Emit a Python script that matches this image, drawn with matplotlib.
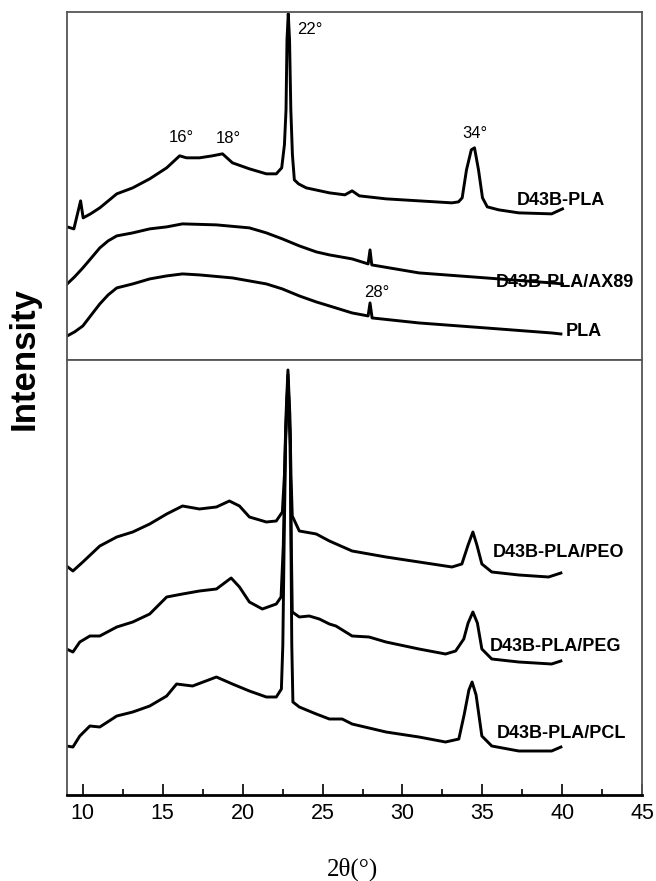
import matplotlib
matplotlib.use("Agg")
import matplotlib.pyplot as plt
from matplotlib.ticker import MultipleLocator

# ---- XRD patterns (2theta in degrees, intensity in a.u., offset for stacking) ----
tt_pla_d43b = [9.04, 9.46, 9.88, 10.04, 10.5, 11.08, 12.14, 13.14, 14.20, 15.26, 16.07, 16.50, 17.31,
               18.12, 18.75, 19.37, 20.43, 21.49, 22.11, 22.45, 22.62, 22.72, 22.78, 22.86, 22.94,
               23.02, 23.12, 23.24, 23.50, 23.98, 25.43, 26.40, 26.85, 27.30, 28.97, 31.03, 33.09,
               33.50, 33.73, 34.00, 34.30, 34.50, 34.75, 35.00, 35.30, 36.02, 37.27, 39.32, 40.00]
I_pla_d43b = [133, 131, 159, 142, 146, 152, 166, 172, 181, 192, 204, 202, 202,
              204, 206, 197, 191, 186, 186, 192, 215, 250, 320, 346, 320,
              250, 205, 180, 176, 172, 167, 165, 169, 164, 161, 159, 157,
              158, 162, 190, 210, 212, 190, 162, 153, 150, 147, 146, 151]

tt_ax89 = [9.04, 9.50, 10.02, 10.50, 11.08, 11.60, 12.14, 13.14, 14.20, 15.26, 16.25, 18.37,
           20.43, 21.49, 22.49, 23.55, 24.61, 25.43, 26.85, 27.85, 27.97, 28.08, 31.03, 35.21,
           39.32, 40.00]
I_ax89 = [76, 83, 92, 101, 112, 119, 124, 127, 131, 133, 136, 135,
          132, 127, 121, 114, 108, 105, 101, 96, 110, 95, 87, 82,
          77, 76]

tt_pla = [9.04, 9.50, 10.02, 10.50, 11.08, 11.60, 12.14, 13.14, 14.20, 15.26, 16.25, 17.31,
          19.37, 21.49, 22.49, 23.55, 24.61, 25.43, 26.85, 27.85, 27.97, 28.10, 31.03, 35.21,
          39.32, 39.90]
I_pla = [24, 28, 34, 44, 56, 65, 72, 76, 81, 84, 86, 85,
         82, 76, 71, 64, 58, 54, 47, 44, 57, 42, 37, 32,
         27, 26]

tt_peo = [9.00, 9.40, 10.02, 11.08, 12.14, 13.14, 14.20, 15.26, 16.25, 17.31, 18.37, 19.18,
          19.81, 20.43, 21.49, 22.11, 22.49, 22.62, 22.72, 22.84, 22.96, 23.03, 23.11, 23.55,
          24.61, 25.43, 26.85, 28.97, 31.03, 33.09, 33.71, 34.10, 34.40, 34.65, 34.96, 35.58,
          37.27, 39.13, 39.90]
I_peo = [229, 224, 233, 249, 258, 263, 271, 281, 289, 286, 288, 294,
         289, 278, 273, 274, 283, 320, 380, 425, 380, 320, 279, 264,
         261, 254, 244, 238, 233, 228, 231, 250, 263, 250, 231, 223,
         220, 218, 222]

tt_peg = [9.00, 9.40, 9.83, 10.46, 11.08, 12.14, 13.14, 14.20, 15.26, 16.25, 17.31, 18.37,
          19.29, 19.81, 20.43, 21.24, 22.11, 22.41, 22.55, 22.68, 22.84, 22.98, 23.05, 23.11,
          23.55, 24.17, 24.80, 25.43, 25.84, 26.85, 27.91, 28.97, 31.03, 32.69, 33.32, 33.83,
          34.10, 34.40, 34.68, 34.96, 35.58, 37.27, 39.32, 39.90]
I_peg = [146, 143, 153, 159, 159, 168, 173, 181, 198, 201, 204, 206,
         217, 208, 193, 186, 191, 198, 250, 350, 420, 350, 250, 183,
         178, 179, 176, 171, 169, 159, 158, 153, 146, 141, 144, 156,
         172, 183, 172, 146, 136, 133, 131, 134]

tt_pcl = [9.00, 9.40, 9.83, 10.46, 11.08, 12.14, 13.14, 14.20, 15.26, 15.88, 16.88, 18.37,
          19.37, 20.43, 21.49, 22.11, 22.43, 22.52, 22.60, 22.70, 22.84, 22.98, 23.03, 23.08,
          23.15, 23.55, 24.61, 25.43, 26.23, 26.85, 28.97, 31.03, 32.69, 33.52, 33.85, 34.15,
          34.35, 34.60, 34.96, 35.58, 37.27, 39.32, 39.90]
I_pcl = [49, 48, 59, 69, 68, 79, 83, 89, 99, 111, 109, 118,
         111, 104, 98, 98, 106, 150, 250, 360, 415, 360, 250, 150,
         93, 88, 81, 76, 76, 71, 63, 58, 53, 56, 80, 105,
         113, 100, 59, 49, 44, 44, 48]

series_top = ["D43B-PLA", "D43B-PLA/AX89", "PLA"]
series_bottom = ["D43B-PLA/PEO", "D43B-PLA/PEG", "D43B-PLA/PCL"]
peak_labels = ["16°", "18°", "22°", "34°", "28°"]
x_ticks = [10, 15, 20, 25, 30, 35, 40, 45]

plt.rcParams["font.family"] = ["Liberation Sans", "DejaVu Sans"]

fig = plt.figure(figsize=(6.56, 8.81), dpi=100)
ax_top = fig.add_axes([0.1014, 0.5914, 0.878, 0.3953])
ax_bot = fig.add_axes([0.1014, 0.0976, 0.878, 0.4938], sharex=ax_top)

line_kw = dict(color="black", lw=2.1, solid_joinstyle="round")

ax_top.plot(tt_pla_d43b, I_pla_d43b, **line_kw)
ax_top.plot(tt_ax89, I_ax89, **line_kw)
ax_top.plot(tt_pla, I_pla, **line_kw)

ax_bot.plot(tt_peo, I_peo, **line_kw)
ax_bot.plot(tt_peg, I_peg, **line_kw)
ax_bot.plot(tt_pcl, I_pcl, **line_kw)

ax_top.set_ylim(0, 348)
ax_bot.set_ylim(0, 435)
ax_bot.set_xlim(9, 45)

frame_col = "#555555"
for ax in (ax_top, ax_bot):
    for side in ("top", "left", "right", "bottom"):
        ax.spines[side].set_color(frame_col)
        ax.spines[side].set_linewidth(1.3)
    ax.set_yticks([])

ax_top.tick_params(axis="x", which="both", bottom=False, labelbottom=False)
ax_bot.spines["bottom"].set_color("black")
ax_bot.spines["bottom"].set_linewidth(2.0)
ax_bot.set_xticks(x_ticks)
ax_bot.xaxis.set_minor_locator(MultipleLocator(2.5))
ax_bot.tick_params(axis="x", which="major", direction="in", length=8, width=1.2,
                   labelsize=15.5, pad=6, color="black")
ax_bot.tick_params(axis="x", which="minor", direction="in", length=4.5, width=1.2,
                   color="black")

# sample names
name_kw = dict(fontsize=13, fontweight="bold", va="center", ha="left")
ax_top.text(37.15, 159, series_top[0], **name_kw)
ax_top.text(35.8, 77, series_top[1], **name_kw)
ax_top.text(40.2, 28, series_top[2], **name_kw)
ax_bot.text(35.65, 242, series_bottom[0], **name_kw)
ax_bot.text(35.44, 149, series_bottom[1], **name_kw)
ax_bot.text(35.9, 62, series_bottom[2], **name_kw)

# reflection positions
pk_kw = dict(fontsize=12, ha="center", va="center")
ax_top.text(16.2, 222, peak_labels[0], **pk_kw)
ax_top.text(19.1, 221, peak_labels[1], **pk_kw)
ax_top.text(23.4, 330, peak_labels[2], fontsize=12, ha="left", va="center")
ax_top.text(34.5, 226, peak_labels[3], **pk_kw)
ax_top.text(28.4, 67, peak_labels[4], **pk_kw)

fig.text(0.037, 1 - 359 / 881, "Intensity", rotation=90, fontsize=25,
         fontweight="bold", ha="center", va="center")
fig.text(0.538, 1 - 869 / 881, "2θ(°)", fontsize=18, ha="center", va="center",
         family=["Liberation Serif", "DejaVu Serif"])

fig.savefig("out.png", dpi=100)
